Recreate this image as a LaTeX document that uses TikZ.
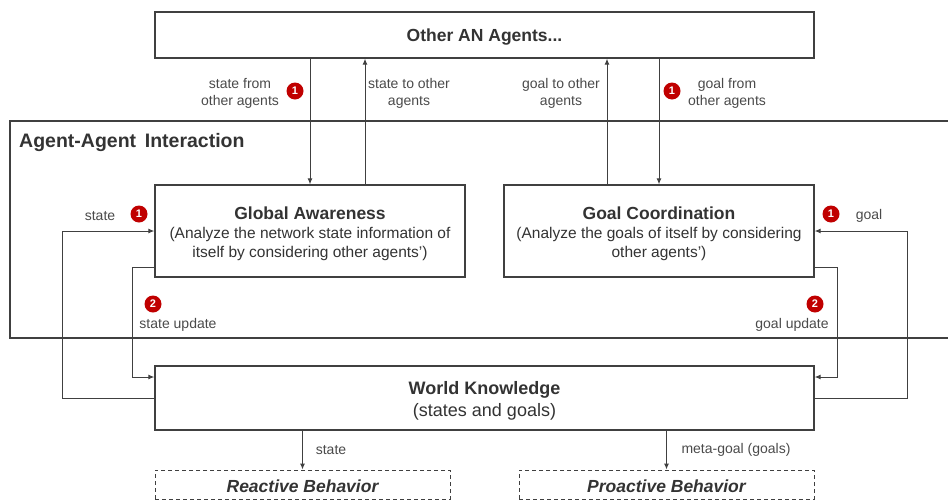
\documentclass[tikz,border=0pt]{standalone}
\usepackage{fontspec}
\setmainfont{Liberation Sans}
\usetikzlibrary{arrows.meta}
\definecolor{ln}{HTML}{404040}
\definecolor{tx}{HTML}{333333}
\definecolor{lb}{HTML}{4A4A4A}
\definecolor{badge}{HTML}{C00000}
\begin{document}
\begin{tikzpicture}[x=1pt,y=-1pt,
 box/.style={draw=ln,line width=1.3pt,fill=white,inner sep=0pt},
 dbox/.style={draw=ln,line width=1pt,dash pattern=on 4pt off 3pt,inner sep=0pt},
 btxt/.style={inner sep=0pt,align=center,text=tx},
 arr/.style={draw=ln,line width=1pt,-{Latex[length=6pt,width=5pt]}},
 lbl/.style={text=lb,font=\fontsize{14}{17}\selectfont,align=center,inner sep=0pt,yshift=-1.8pt},
 bdg/.style={circle,fill=badge,text=white,font=\fontsize{11}{11}\selectfont\bfseries,inner sep=0pt,minimum size=17pt},
]
\useasboundingbox (0,0) rectangle (948,501);
% interaction frame
\coordinate (fa) at (948,121);
\coordinate (fb) at (948,338);
\draw[draw=ln,line width=1.3pt] (fa) -- (10,121) -- (10,338) -- (fb);
\node[anchor=west,inner sep=0pt,text=tx,font=\fontsize{19.5}{20}\selectfont\bfseries] (aai) at (19,142) {Agent-Agent\,\ Interaction};

% boxes
\node[box,minimum width=659pt,minimum height=46pt] (other) at (484.5,35) {};
\node[box,minimum width=310pt,minimum height=92pt] (ga) at (310,231) {};
\node[box,minimum width=310pt,minimum height=92pt] (gc) at (659,231) {};
\node[box,minimum width=659pt,minimum height=64pt] (wk) at (484.5,398) {};
\node[dbox,minimum width=295pt,minimum height=29pt] (rb) at (302.5,484.5) {};
\node[dbox,minimum width=295pt,minimum height=29pt] (pb) at (666.5,484.5) {};

% box texts
\node[btxt,font=\fontsize{17.5}{19}\selectfont\bfseries,yshift=-2pt] (othert) at (other.center) {Other AN Agents...};
\node[btxt,font=\fontsize{15.5}{19}\selectfont,yshift=-3pt] (gat) at (ga.center)
  {{\fontsize{17.5}{19}\selectfont\bfseries Global Awareness}\\(Analyze the network state information of\\itself by considering other agents')};
\node[btxt,font=\fontsize{15.5}{19}\selectfont,yshift=-3pt] (gct) at (gc.center)
  {{\fontsize{17.5}{19}\selectfont\bfseries Goal Coordination}\\(Analyze the goals of itself by considering\\other agents')};
\node[btxt,font=\fontsize{18}{22}\selectfont,yshift=-3pt] (wkt) at (wk.center)
  {\textbf{World Knowledge}\\(states and goals)};
\node[btxt,font=\fontsize{17.5}{19}\selectfont\bfseries\itshape,yshift=-1.5pt] (rbt) at (rb.center) {Reactive Behavior};
\node[btxt,font=\fontsize{17.5}{19}\selectfont\bfseries\itshape,yshift=-1.5pt] (pbt) at (pb.center) {Proactive Behavior};

% connectors to/from other agents
\draw[arr] (other.south -| ga.north) -- (ga.north);
\draw[arr] ([xshift=55pt]ga.north) -- ([xshift=55pt]ga.north |- other.south);
\draw[arr] ([xshift=-52pt]gc.north) -- ([xshift=-52pt]gc.north |- other.south);
\draw[arr] (other.south -| gc.north) -- (gc.north);

% loops
\draw[arr] (wk.west) -- ++(-92,0) |- (ga.west);
\draw[arr] ([yshift=-36pt]ga.west) -- ++(-22,0) |- ([yshift=21pt]wk.west);
\draw[arr] ([yshift=-36pt]gc.east) -- ++(23,0) |- ([yshift=21pt]wk.east);
\draw[arr] (wk.east) -- ++(93,0) |- (gc.east);

% behaviours
\draw[arr] (wk.south -| rb.north) -- (rb.north);
\draw[arr] (wk.south -| pb.north) -- (pb.north);

% labels
\node[lbl] (l1) at (240,91.5) {state from\\other agents};
\node[bdg] (b1) at (295,91) {1};
\node[lbl] (l2) at (409,91.5) {state to other\\agents};
\node[lbl] (l3) at (561,91.5) {goal to other\\agents};
\node[bdg] (b2) at (672,91) {1};
\node[lbl] (l4) at (727,91.5) {goal from\\other agents};
\node[lbl] (l5) at (100,214) {state};
\node[bdg] (b3) at (139,214) {1};
\node[bdg] (b4) at (831,214) {1};
\node[lbl] (l6) at (869,214) {goal};
\node[bdg] (b5) at (153,304) {2};
\node[lbl] (l7) at (178,323) {state update};
\node[bdg] (b6) at (815,304) {2};
\node[lbl] (l8) at (792,323) {goal update};
\node[lbl] (l9) at (331,448) {state};
\node[lbl] (l10) at (736,448) {meta-goal (goals)};
\end{tikzpicture}
\end{document}
